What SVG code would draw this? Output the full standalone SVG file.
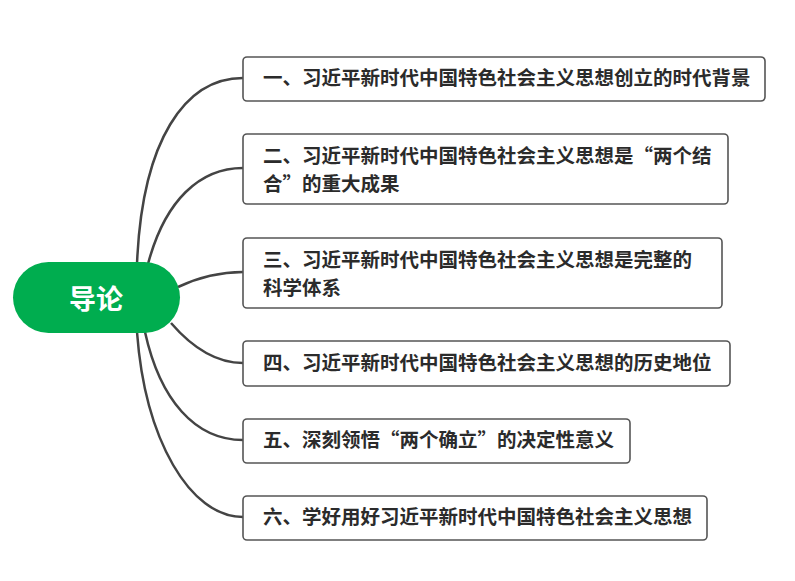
<svg xmlns="http://www.w3.org/2000/svg" width="795" height="581" viewBox="0 0 795 581">
<style>
.box{fill:#fff;stroke:#555;stroke-width:1.6}
.t{font-family:"Noto Sans CJK SC","Noto Sans",sans-serif;font-size:19.5px;font-weight:bold;fill:#2b2b2b}
.c{fill:none;stroke:#444;stroke-width:2.5}
.root{fill:#00ad4f}
.rt{font-family:"Noto Sans CJK SC","Noto Sans",sans-serif;font-size:27px;font-weight:bold;fill:#fff}
</style>
<rect width="795" height="581" fill="#fff"/>
<g id="connectors">
<path class="c" d="M137,264 C142,140 185,78 243,78"/>
<path class="c" d="M148,264 C165,200 200,168 243,168"/>
<path class="c" d="M178,287 C195,279 215,272 243,272"/>
<path class="c" d="M171,323 C190,345 215,363 243,363"/>
<path class="c" d="M145,332 C160,400 195,440 243,440"/>
<path class="c" d="M137,332 C145,440 190,517 243,517"/>
</g>
<g id="root">
<rect class="root" x="13" y="262" width="167" height="71" rx="35.5"/>
<text class="rt" x="96" y="309" text-anchor="middle">导论</text>
</g>
<g id="n1">
<rect class="box" x="243" y="57" width="522" height="44" rx="4"/>
<text class="t" x="263" y="85">一、习近平新时代中国特色社会主义思想创立的时代背景</text>
</g>
<g id="n2">
<rect class="box" x="243" y="134" width="485" height="70" rx="4"/>
<text class="t" x="263" y="162.5">二、习近平新时代中国特色社会主义思想是“两个结<tspan x="263" dy="28.5">合”的重大成果</tspan></text>
</g>
<g id="n3">
<rect class="box" x="243" y="238" width="479" height="70" rx="4"/>
<text class="t" x="263" y="266.5">三、习近平新时代中国特色社会主义思想是完整的<tspan x="263" dy="28.5">科学体系</tspan></text>
</g>
<g id="n4">
<rect class="box" x="243" y="341" width="487" height="45" rx="4"/>
<text class="t" x="263" y="370">四、习近平新时代中国特色社会主义思想的历史地位</text>
</g>
<g id="n5">
<rect class="box" x="243" y="419" width="387" height="44" rx="4"/>
<text class="t" x="263" y="447">五、深刻领悟“两个确立”的决定性意义</text>
</g>
<g id="n6">
<rect class="box" x="243" y="496" width="464" height="44" rx="4"/>
<text class="t" x="263" y="524">六、学好用好习近平新时代中国特色社会主义思想</text>
</g>
</svg>
